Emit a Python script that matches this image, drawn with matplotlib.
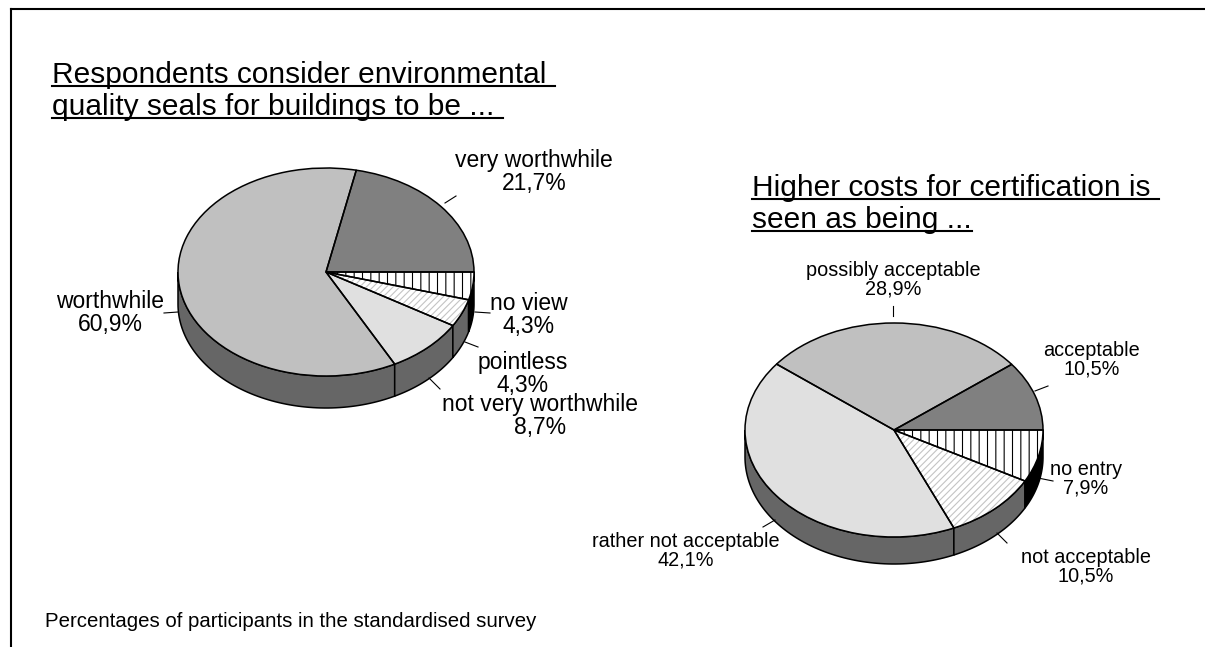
import matplotlib.pyplot as plt
import numpy as np

plt.rcParams['font.family'] = ['Liberation Sans', 'DejaVu Sans']
plt.rcParams['hatch.linewidth'] = 0.8

W, H = 1205, 647

# left chart: quality seals
seal_names = ['very worthwhile', 'worthwhile', 'not very worthwhile', 'pointless', 'no view']
seal_values = [21.7, 60.9, 8.7, 4.3, 4.3]

# right chart: higher certification costs
cost_names = ['acceptable', 'possibly acceptable', 'rather not acceptable', 'not acceptable', 'no entry']
cost_values = [10.5, 28.9, 42.1, 10.5, 7.9]

fills = ['#808080', '#c0c0c0', '#e0e0e0', 'white', 'white']
hatches = ['', '', '', '/////', '||']
hatch_cols = ['none', 'none', 'none', '#c4c4c4', 'black']
rims = ['#666666', '#666666', '#666666', '#666666', 'black']

fig = plt.figure(figsize=(W / 100, H / 100), dpi=100)

# overlay in pixel coordinates for texts, frame and leader lines
ov = fig.add_axes([0, 0, 1, 1], zorder=5)
ov.set_xlim(0, W)
ov.set_ylim(H, 0)
ov.axis('off')


def pie3d(cx, cy, rx, ry, depth, values):
    t = depth / ry
    pad = 0.03
    ax = fig.add_axes([(cx - rx * (1 + pad)) / W,
                       (H - cy - ry * (1 + pad) - depth) / H,
                       2 * rx * (1 + pad) / W,
                       (2 * ry * (1 + pad) + depth) / H])
    # side of the cake, front half only
    ang = np.cumsum([0] + values) / sum(values) * 360
    for i in range(len(values)):
        b0, b1 = max(ang[i], 180), min(ang[i + 1], 360)
        if b1 <= b0:
            continue
        th = np.radians(np.linspace(b0, b1, 80))
        xs = np.concatenate([np.cos(th), np.cos(th[::-1])])
        ys = np.concatenate([np.sin(th), np.sin(th[::-1]) - t])
        ax.fill(xs, ys, facecolor=rims[i], edgecolor='black', lw=1.1, zorder=1)
    # top face
    ax.pie(values, colors=fills, startangle=0, counterclock=True,
           wedgeprops=dict(linewidth=0, zorder=2))
    hw, _ = ax.pie(values, startangle=0, counterclock=True, hatch=hatches,
                   wedgeprops=dict(fill=False, linewidth=0, zorder=3))
    for w, c in zip(hw, hatch_cols):
        w.set_edgecolor(c)
        w.set_linewidth(0)
    ax.pie(values, startangle=0, counterclock=True,
           wedgeprops=dict(fill=False, edgecolor='black', linewidth=1.1, zorder=4))
    ax.set_aspect('auto')
    ax.set_xlim(-1 - pad, 1 + pad)
    ax.set_ylim(-1 - pad - t, 1 + pad)
    ax.axis('off')
    return ax


pie3d(326, 272, 148, 104, 32, seal_values)
pie3d(894, 430, 149, 107, 27, cost_values)


def fmt(name, v):
    return name + '\n' + ('%.1f%%' % v).replace('.', ',')


seal_pos = [(534, 172), (110, 313), (540, 416), (523, 374), (529, 315)]
seal_lead = [((445, 203), (456, 196)), ((164, 313), (178, 312)), ((429, 378), (440, 389)),
             ((465, 342), (478, 347)), ((475, 312), (490, 313))]
for n, v, p, l in zip(seal_names, seal_values, seal_pos, seal_lead):
    ov.text(p[0], p[1], fmt(n, v), fontsize=16.5, ha='center', va='center', linespacing=0.98)
    ov.plot([l[0][0], l[1][0]], [l[0][1], l[1][1]], color='black', lw=0.8)

cost_pos = [(1092, 360), (893, 280), (686, 551), (1086, 567), (1086, 479)]
cost_lead = [((1035, 391), (1048, 386)), ((893, 306), (893, 316)), ((763, 527), (775, 520)),
             ((997, 533), (1007, 543)), ((1038, 478), (1053, 481))]
for n, v, p, l in zip(cost_names, cost_values, cost_pos, cost_lead):
    ov.text(p[0], p[1], fmt(n, v), fontsize=14.3, ha='center', va='center', linespacing=0.98)
    ov.plot([l[0][0], l[1][0]], [l[0][1], l[1][1]], color='black', lw=0.8)

# underlined titles
titles = [(52, 83, 'Respondents consider environmental '),
          (52, 115, 'quality seals for buildings to be ... '),
          (752, 196, 'Higher costs for certification is '),
          (752, 228, 'seen as being ...')]
fig.canvas.draw()
r = fig.canvas.get_renderer()
inv = ov.transData.inverted()
for x, y, s in titles:
    tx = ov.text(x, y, s, fontsize=21.5, ha='left', va='baseline')
    bb = tx.get_window_extent(r)
    x0, _ = inv.transform((bb.x0, bb.y0))
    x1, _ = inv.transform((bb.x1, bb.y0))
    ov.plot([x0, x1], [y + 3, y + 3], color='black', lw=1.5)

ov.text(45, 627, 'Percentages of participants in the standardised survey',
        fontsize=14.7, ha='left', va='baseline')

# frame: top and left edges only
ov.plot([11, W], [9, 9], color='black', lw=1.5)
ov.plot([11, 11], [9, H], color='black', lw=1.5)

fig.savefig('out.png', dpi=100)
